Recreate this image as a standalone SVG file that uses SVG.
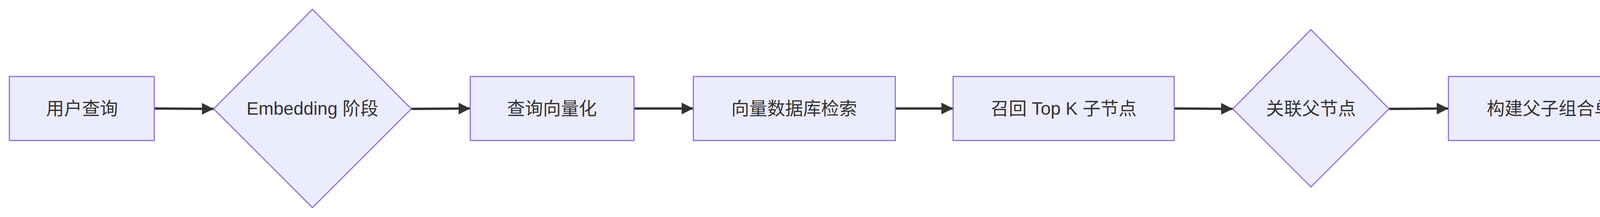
<svg xmlns="http://www.w3.org/2000/svg" width="7353" height="556" viewBox="0 0 7353 556">
<style>
.n{fill:#ECECFF;stroke:#9370DB;stroke-width:3}
.t{font-family:"Liberation Sans","Noto Sans CJK SC",sans-serif;font-size:46px;fill:#333;text-anchor:middle;dominant-baseline:central}
.e{stroke:#333;stroke-width:6;fill:none;marker-end:url(#a)}
</style>
<defs><marker id="a" viewBox="0 0 10 10" refX="10" refY="5" markerWidth="5" markerHeight="5" orient="auto" markerUnits="strokeWidth"><path d="M0,0L10,5L0,10z" fill="#333"/></marker></defs>
<rect width="7353" height="556" fill="#fff"/>
<g id="edges">
<path class="e" d="M395,278L547,279"/>
<path class="e" d="M1053,279L1204,278"/>
<path class="e" d="M1623,278L1775,278"/>
<path class="e" d="M2292,278L2440,278"/>
<path class="e" d="M3006,278L3156,279"/>
<path class="e" d="M3556,279L3708,278"/>
<path class="e" d="M4271,278L4422,279"/>
<path class="e" d="M4885,279L5035,278"/>
<path class="e" d="M5454,278L5604,278"/>
<path class="e" d="M5928,278L6078,278"/>
<path class="e" d="M6598,278L6748,278"/>
</g>
<g id="n1"><rect class="n" x="24" y="196" width="371" height="164"/><text class="t" x="210" y="278">用户查询</text></g>
<g id="n2"><polygon class="n" points="800,24 1053,279 800,532 547,279"/><text class="t" x="800" y="278">Embedding 阶段</text></g>
<g id="n3"><rect class="n" x="1204" y="196" width="419" height="164"/><text class="t" x="1413" y="278">查询向量化</text></g>
<g id="n4"><rect class="n" x="1775" y="196" width="517" height="164"/><text class="t" x="2033" y="278">向量数据库检索</text></g>
<g id="n5"><rect class="n" x="2440" y="196" width="566" height="164"/><text class="t" x="2723" y="278">召回 Top K 子节点</text></g>
<g id="n6"><polygon class="n" points="3356,76 3556,279 3356,479 3156,279"/><text class="t" x="3356" y="278">关联父节点</text></g>
<g id="n7"><rect class="n" x="3708" y="196" width="563" height="164"/><text class="t" x="3990" y="278">构建父子组合单元</text></g>
<g id="n8"><polygon class="n" points="4653,45 4885,279 4653,511 4422,279"/><text class="t" x="4653" y="278">Reranker 阶段</text></g>
<g id="n9"><rect class="n" x="5035" y="196" width="419" height="164"/><text class="t" x="5245" y="278">精细化评分</text></g>
<g id="n10"><rect class="n" x="5604" y="196" width="324" height="164"/><text class="t" x="5766" y="278">重排序</text></g>
<g id="n11"><rect class="n" x="6078" y="196" width="520" height="164"/><text class="t" x="6338" y="278">筛选 Top N 组合</text></g>
<g id="n12"><rect class="n" x="6748" y="196" width="577" height="164"/><text class="t" x="7036" y="278">输入 LLM 生成答案</text></g>
</svg>
